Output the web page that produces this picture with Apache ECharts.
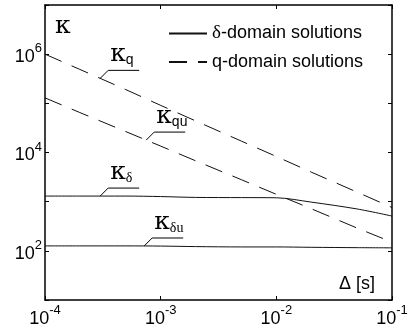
<!DOCTYPE html>
<html><head><meta charset="utf-8">
<script src="https://cdn.jsdelivr.net/npm/echarts@6/dist/echarts.min.js"></script>
<style>html,body{margin:0;padding:0;background:#fff}#c{width:411px;height:330px}</style>
</head><body><div id="c"></div>
<script>
// Time step Δ [s]
const deltaS = [1e-4, 2e-4, 5e-4, 1e-3, 2e-3, 5e-3, 1e-2, 2e-2, 5e-2, 1e-1];
// q-domain solutions
const kappaQ  = [1.0e6, 4.9e5, 1.9e5, 9.1e4, 4.4e4, 1.7e4, 8.3e3, 4.0e3, 1.56e3, 7.6e2];
const kappaQu = [1.29e5, 6.5e4, 2.66e4, 1.35e4, 6.8e3, 2.79e3, 1.41e3, 7.2e2, 2.9e2, 1.5e2];
// δ-domain solutions
const kappaD  = [1.3e3, 1.3e3, 1.3e3, 1.27e3, 1.22e3, 1.21e3, 1.2e3, 9.8e2, 7.1e2, 5.1e2];
const kappaDu = [1.26e2, 1.26e2, 1.26e2, 1.25e2, 1.22e2, 1.2e2, 1.2e2, 1.18e2, 1.16e2, 1.15e2];
// axis ranges
const xRange = [1e-4, 1e-1];
const yRange = [1e1, 1e7];
const legendNames = ['δ-domain solutions', 'q-domain solutions'];
// annotation labels: [main, subscript, series data, Δ of leader anchor]
const annotations = [
  ['κ', 'q', kappaQ, 3.0e-4],
  ['κ', 'qu', kappaQu, 7.5e-4],
  ['κ', 'δ', kappaD, 3.0e-4],
  ['κ', 'δu', kappaDu, 7.2e-4]
];

const pairs = arr => deltaS.map((x, i) => [x, arr[i]]);
const SANS = 'Liberation Sans';
const SERIF = 'Liberation Serif';
const expLabel = v => {
  const e = Math.round(Math.log10(v));
  return '{b|10}{s|' + e + '}';
};
const labelRich = {
  b: {fontSize: 18, fontFamily: SANS, color: '#000', lineHeight: 24, verticalAlign: 'bottom'},
  s: {fontSize: 13, fontFamily: SANS, color: '#000', lineHeight: 24, verticalAlign: 'top', padding: [0, 0, 7, 0]}
};
const lineCol = '#111';

const chart = echarts.init(document.getElementById('c'), null, {renderer: 'canvas'});
const baseAxis = {
  type: 'log', logBase: 10,
  axisLine: {show: true, lineStyle: {color: '#000', width: 1.5}},
  axisTick: {show: true, inside: true, length: 4, lineStyle: {color: '#000', width: 1}},
  splitLine: {show: false},
  minorTick: {show: false}
};
chart.setOption({
  animation: false,
  backgroundColor: '#fff',
  grid: {left: 45, right: 19, top: 5, bottom: 30, containLabel: false},
  legend: {
    data: legendNames,
    orient: 'vertical',
    left: 163, top: 19,
    itemWidth: 38, itemHeight: 18, itemGap: 10,
    itemStyle: {opacity: 0},
    textStyle: {fontSize: 18, fontFamily: SANS, color: '#000',
      rich: {g: {fontSize: 19, fontFamily: SERIF, color: '#000'}}},
    formatter: n => n.startsWith('δ') ? '{g|δ}' + n.slice(1) : n
  },
  xAxis: [
    Object.assign({}, baseAxis, {min: xRange[0], max: xRange[1], splitNumber: 3, position: 'bottom',
      axisLabel: {formatter: expLabel, fontSize: 18, fontFamily: SANS, color: '#000', rich: labelRich, margin: 4}}),
    Object.assign({}, baseAxis, {min: xRange[0], max: xRange[1], splitNumber: 3, position: 'top',
      axisLabel: {show: false}})
  ],
  yAxis: [
    Object.assign({}, baseAxis, {min: yRange[0], max: yRange[1], splitNumber: 6, position: 'left',
      axisLabel: {formatter: v => (Math.round(Math.log10(v)) % 2 === 0 ? expLabel(v) : ''), fontSize: 18, fontFamily: SANS, color: '#000', rich: labelRich, margin: 3}}),
    Object.assign({}, baseAxis, {min: yRange[0], max: yRange[1], splitNumber: 6, position: 'right',
      axisLabel: {show: false}})
  ],
  series: [
    {name: legendNames[1], type: 'line', data: pairs(kappaQ), symbol: 'none', smooth: false,
      lineStyle: {color: lineCol, width: 1, type: [18, 11]}, itemStyle: {color: lineCol}},
    {name: legendNames[1], type: 'line', data: pairs(kappaQu), symbol: 'none',
      lineStyle: {color: lineCol, width: 1, type: [18, 11]}, itemStyle: {color: lineCol}},
    {name: legendNames[0], type: 'line', data: pairs(kappaD), symbol: 'none', smooth: 0.3,
      lineStyle: {color: lineCol, width: 1, type: 'solid'}, itemStyle: {color: lineCol}},
    {name: legendNames[0], type: 'line', data: pairs(kappaDu), symbol: 'none', smooth: 0.3,
      lineStyle: {color: lineCol, width: 1, type: 'solid'}, itemStyle: {color: lineCol}}
  ]
});

function valueAt(arr, x) {
  const lx = Math.log10(x);
  for (let i = 0; i < deltaS.length - 1; i++) {
    const a = Math.log10(deltaS[i]), b = Math.log10(deltaS[i + 1]);
    if (lx >= a && lx <= b) {
      const t = (lx - a) / (b - a);
      return Math.pow(10, Math.log10(arr[i]) + t * (Math.log10(arr[i + 1]) - Math.log10(arr[i])));
    }
  }
  return arr[arr.length - 1];
}

const g = [];
annotations.forEach(([main, sub, arr, xa]) => {
  const p = chart.convertToPixel({gridIndex: 0}, [xa, valueAt(arr, xa)]);
  const x0 = p[0], y0 = p[1];
  const kx = x0 + 8, ky = y0 - 8;
  g.push({type: 'polyline', shape: {points: [[x0, y0], [kx, ky], [kx + 31, ky]]},
    style: {stroke: '#000', lineWidth: 1, fill: null}});
  g.push({type: 'text', x: kx + 2, y: ky - 3,
    style: {text: '{k|' + main + '}{u|' + sub + '}', verticalAlign: 'bottom',
      rich: {k: {fontSize: 25, fontFamily: 'DejaVu Serif', fill: '#000', verticalAlign: 'bottom', lineHeight: 24},
             u: {fontSize: 14, fontFamily: sub.indexOf('δ') >= 0 ? SERIF : SANS, fill: '#000', verticalAlign: 'bottom', lineHeight: 17}}}});
});
g.push({type: 'text', x: 55, y: 14, style: {text: 'κ', font: '25px DejaVu Serif', fill: '#000'}});
g.push({type: 'text', x: 339, y: 275, style: {text: 'Δ [s]', font: '18px ' + SANS, fill: '#000'}});
chart.setOption({graphic: g});
</script></body></html>
